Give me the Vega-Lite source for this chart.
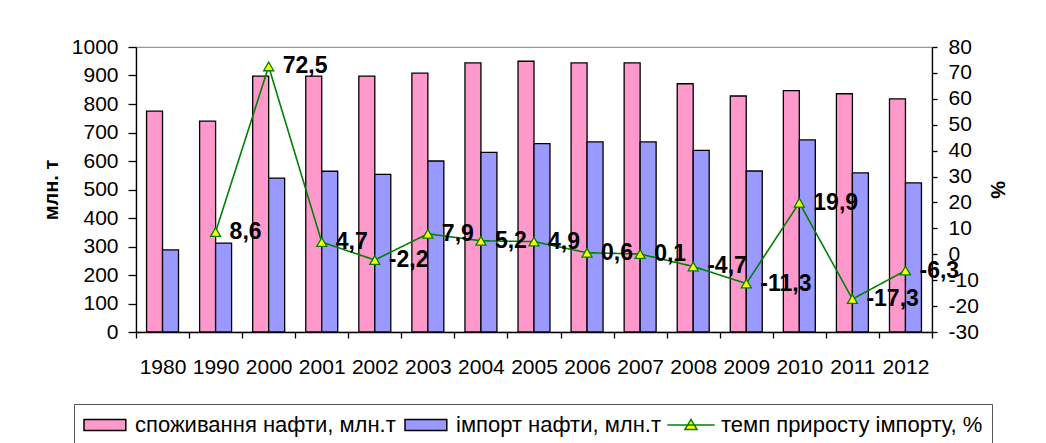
{
  "$schema": "https://vega.github.io/schema/vega-lite/v6.json",
  "autosize": {"type": "none"},
  "width": 796,
  "height": 285,
  "padding": {"left": 136, "top": 47, "right": 114, "bottom": 111},
  "background": "white",
  "data": {
    "values": [
      {"year": "1980", "cons": 775, "imp": 288, "growth": null},
      {"year": "1990", "cons": 740, "imp": 312, "growth": 8.6},
      {"year": "2000", "cons": 898, "imp": 540, "growth": 72.5},
      {"year": "2001", "cons": 898, "imp": 564, "growth": 4.7},
      {"year": "2002", "cons": 898, "imp": 553, "growth": -2.2},
      {"year": "2003", "cons": 908, "imp": 600, "growth": 7.9},
      {"year": "2004", "cons": 944, "imp": 630, "growth": 5.2},
      {"year": "2005", "cons": 950, "imp": 661, "growth": 4.9},
      {"year": "2006", "cons": 944, "imp": 667, "growth": 0.6},
      {"year": "2007", "cons": 944, "imp": 667, "growth": 0.1},
      {"year": "2008", "cons": 871, "imp": 637, "growth": -4.7},
      {"year": "2009", "cons": 828, "imp": 565, "growth": -11.3},
      {"year": "2010", "cons": 847, "imp": 674, "growth": 19.9},
      {"year": "2011", "cons": 836, "imp": 558, "growth": -17.3},
      {"year": "2012", "cons": 818, "imp": 523, "growth": -6.3}
    ]
  },
  "layer": [
    {
      "transform": [{"fold": ["cons", "imp"], "as": ["key", "value"]}],
      "mark": {"type": "bar", "strokeWidth": 1.3, "opacity": 1},
      "encoding": {
        "x": {
          "field": "year", "type": "nominal", "sort": null,
          "scale": {"paddingInner": 0, "paddingOuter": 0},
          "axis": {
            "title": null, "labelAngle": 0, "tickBand": "extent",
            "labelFontSize": 21, "labelPadding": 18, "tickSize": 6,
            "domainColor": "#000000", "tickColor": "#000000", "labelColor": "#000000",
            "domainWidth": 1.3, "tickWidth": 1.3
          }
        },
        "xOffset": {
          "field": "key", "type": "nominal", "sort": ["cons", "imp"],
          "scale": {"paddingInner": 0, "paddingOuter": 0.66}
        },
        "y": {
          "field": "value", "type": "quantitative",
          "scale": {"domain": [0, 1000], "nice": false},
          "axis": {
            "title": "млн. т", "orient": "left",
            "values": [0, 100, 200, 300, 400, 500, 600, 700, 800, 900, 1000],
            "grid": false, "tickSize": 8, "labelPadding": 10, "labelFontSize": 21,
            "titleFontSize": 20, "titleFontWeight": "bold", "titlePadding": 10,
            "domainColor": "#000000", "tickColor": "#000000", "labelColor": "#000000", "titleColor": "#000000",
            "domainWidth": 1.3, "tickWidth": 1.3
          }
        },
        "stroke": {
          "field": "key", "type": "nominal",
          "scale": {"domain": ["cons", "imp", "growth"], "range": ["#000000", "#000000", "transparent"]},
          "legend": {"title": null, "orient": "none", "direction": "horizontal", "legendX": -62, "legendY": 357}
        },
        "color": {
          "field": "key", "type": "nominal",
          "scale": {"domain": ["cons", "imp", "growth"], "range": ["#FF99CC", "#9999FF", "transparent"]},
          "legend": {
            "title": null, "orient": "none", "direction": "horizontal",
            "legendX": -62, "legendY": 357,
            "labelExpr": "datum.value == 'cons' ? 'споживання нафти, млн.т' : datum.value == 'imp' ? 'імпорт нафти, млн.т' : 'темп приросту імпорту, %'",
            "labelFontSize": 22, "labelColor": "#000000", "labelLimit": 500,
            "labelOffset": 28, "columnPadding": 6,
            "symbolSize": 484, "symbolType": "M-1,-0.5H2.8V0.5H-1Z",
            "symbolStrokeWidth": 1.5,
            "strokeColor": "#555555", "padding": 9
          }
        }
      }
    },
    {
      "encoding": {
        "x": {"field": "year", "type": "nominal", "sort": null},
        "y": {
          "field": "growth", "type": "quantitative",
          "scale": {"domain": [-30, 80], "nice": false},
          "axis": {
            "title": "%", "orient": "right",
            "values": [-30, -20, -10, 0, 10, 20, 30, 40, 50, 60, 70, 80],
            "grid": false, "tickSize": 5, "labelPadding": 11, "labelFontSize": 21,
            "titleFontSize": 20, "titleFontWeight": "bold", "titlePadding": 8,
            "domainColor": "#000000", "tickColor": "#000000", "labelColor": "#000000", "titleColor": "#000000",
            "domainWidth": 1.3, "tickWidth": 1.3
          }
        }
      },
      "layer": [
        {
          "mark": {"type": "line", "color": "#008000", "strokeWidth": 1.6},
          "encoding": {
            "strokeDash": {
              "datum": "growth",
              "scale": {"range": [[1, 0]]},
              "legend": {
                "title": null, "orient": "none", "legendX": 543, "legendY": 366,
                "labelExpr": "''", "labelFontSize": 22, "padding": 0,
                "symbolSize": 484, "symbolType": "M-2.15,0H2.15M0,-0.5L0.55,0.4H-0.55Z",
                "symbolFillColor": "#FFFF00", "symbolStrokeColor": "#008000", "symbolStrokeWidth": 1.5,
                "symbolOpacity": 1
              }
            }
          }
        },
        {"mark": {"type": "point", "shape": "triangle-up", "size": 100, "filled": true, "fill": "#FFFF00", "stroke": "#008000", "strokeWidth": 1.3, "opacity": 1}},
        {
          "mark": {"type": "text", "align": "left", "baseline": "middle", "dx": 14, "fontSize": 23, "fontWeight": "bold", "color": "#000000"},
          "encoding": {"text": {"field": "growth", "type": "quantitative", "format": ".1f"}}
        }
      ]
    }
  ],
  "resolve": {"scale": {"y": "independent"}},
  "config": {
    "font": "Liberation Sans",
    "view": {"stroke": "#999999", "strokeWidth": 1.2},
    "locale": {"number": {"decimal": ",", "thousands": "", "grouping": [3], "currency": ["", ""], "minus": "-"}}
  }
}
